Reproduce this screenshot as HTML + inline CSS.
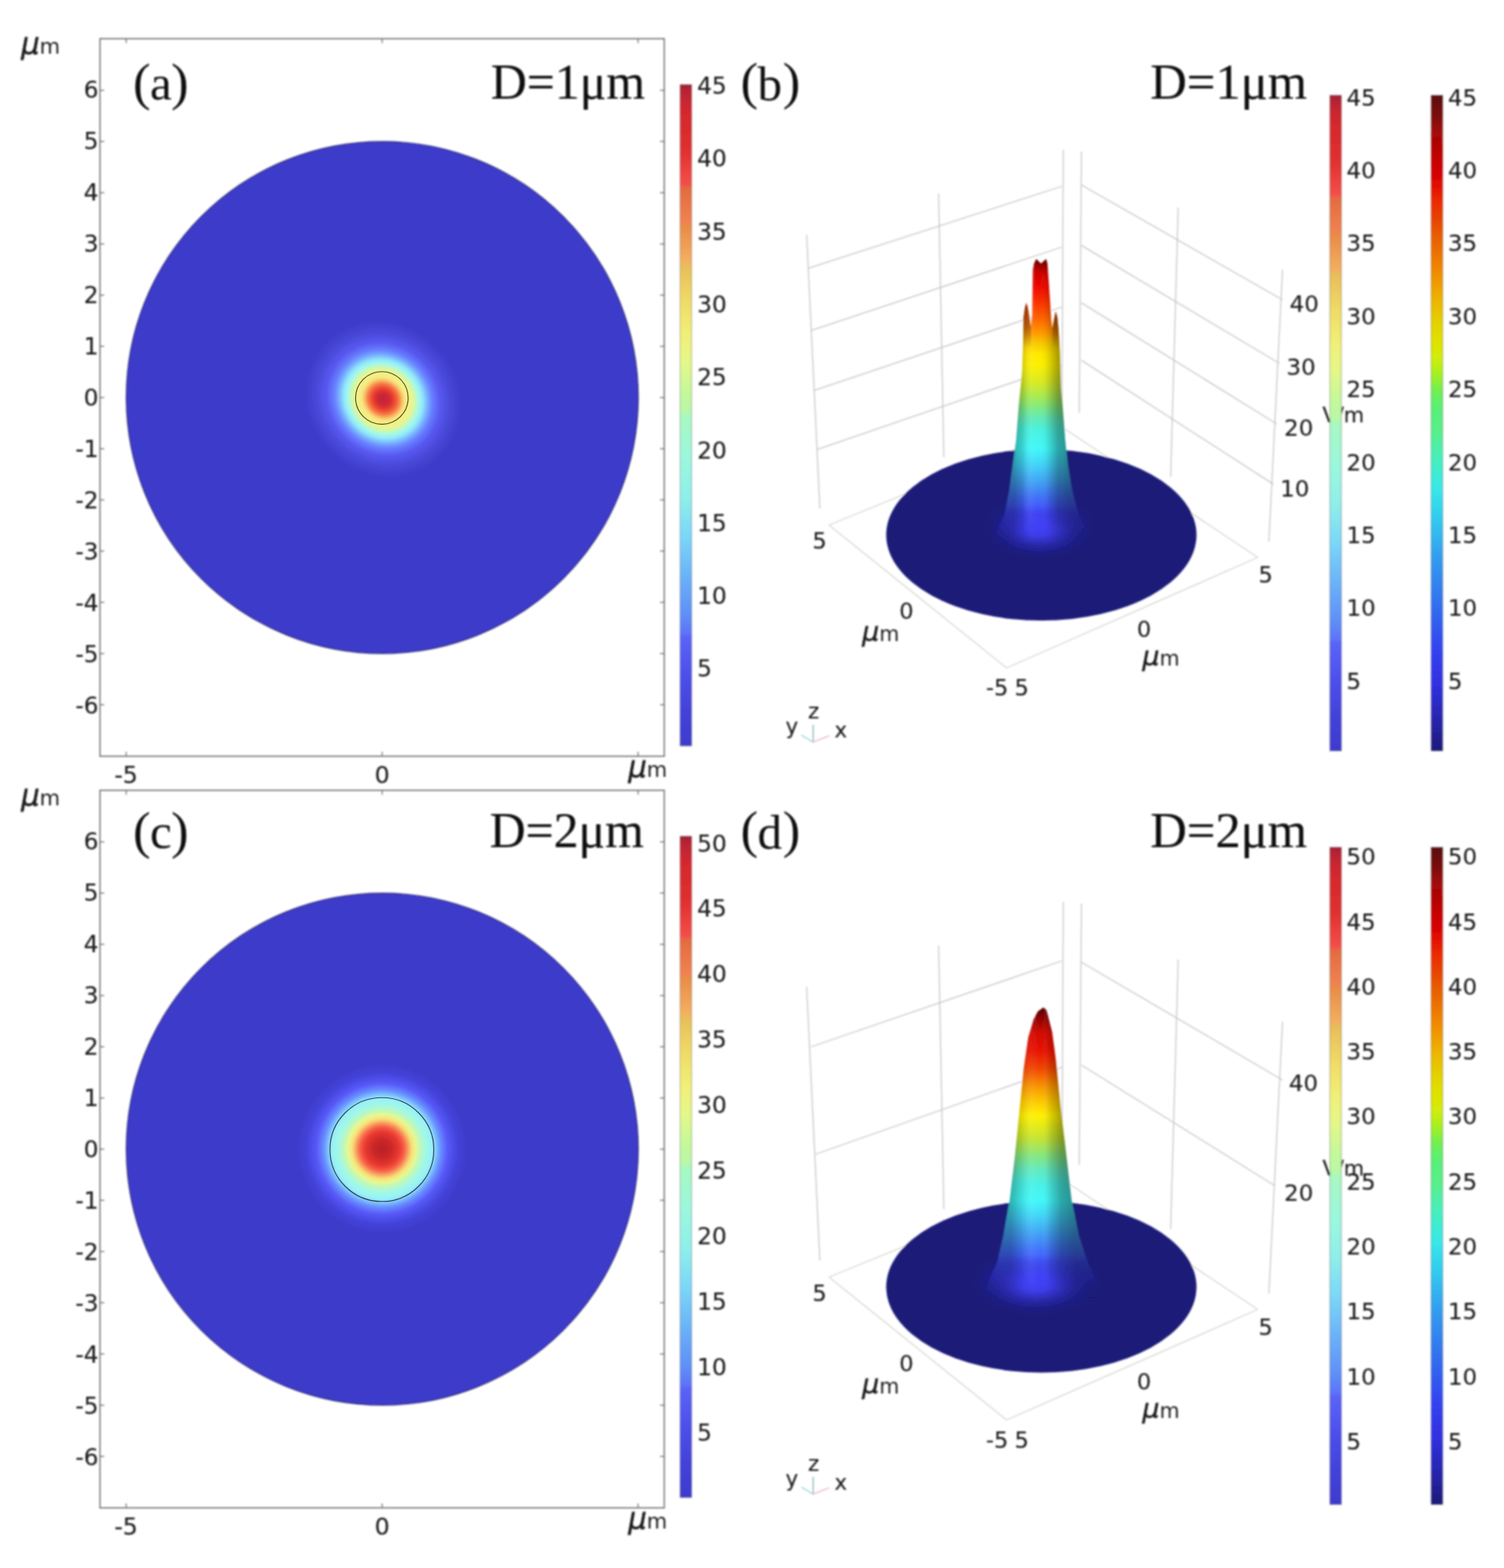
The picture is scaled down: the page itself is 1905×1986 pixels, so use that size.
<!DOCTYPE html>
<html lang="en"><head><meta charset="utf-8"><title>Figure</title>
<style>
html,body{margin:0;padding:0;background:#fff;}
body{width:1905px;height:1986px;overflow:hidden;}
svg{display:block;}
</style></head>
<body>
<svg width="1905" height="1986" viewBox="0 0 1905 1986">
<defs>
<filter id="soft" x="0" y="0" width="100%" height="100%" filterUnits="userSpaceOnUse"><feGaussianBlur stdDeviation="0.8"/></filter>
<linearGradient id="rl" x1="0" y1="0" x2="0" y2="1"><stop offset="0.0000" stop-color="#a02038"/><stop offset="0.0100" stop-color="#b82434"/><stop offset="0.0400" stop-color="#d4282e"/><stop offset="0.1000" stop-color="#e03030"/><stop offset="0.1520" stop-color="#f4504a"/><stop offset="0.1560" stop-color="#e46a40"/><stop offset="0.2100" stop-color="#f08450"/><stop offset="0.2140" stop-color="#e88c48"/><stop offset="0.2680" stop-color="#f4b060"/><stop offset="0.2720" stop-color="#e8bc58"/><stop offset="0.3300" stop-color="#f0dc68"/><stop offset="0.3800" stop-color="#f0f078"/><stop offset="0.4200" stop-color="#e4f888"/><stop offset="0.4600" stop-color="#c8f898"/><stop offset="0.4950" stop-color="#b8f8a8"/><stop offset="0.5000" stop-color="#a8f8c0"/><stop offset="0.5600" stop-color="#9cf8dc"/><stop offset="0.6200" stop-color="#90f0e8"/><stop offset="0.6800" stop-color="#7cd8f8"/><stop offset="0.7400" stop-color="#6cb4f8"/><stop offset="0.8000" stop-color="#6090f8"/><stop offset="0.8300" stop-color="#5c74f8"/><stop offset="0.8350" stop-color="#5a64f8"/><stop offset="0.8900" stop-color="#4e50ec"/><stop offset="0.9400" stop-color="#4444dc"/><stop offset="1.0000" stop-color="#3e3acc"/></linearGradient>
<linearGradient id="jet" x1="0" y1="0" x2="0" y2="1"><stop offset="0.0000" stop-color="#5a1010"/><stop offset="0.0300" stop-color="#7a0c0c"/><stop offset="0.0540" stop-color="#a00808"/><stop offset="0.1070" stop-color="#cc0000"/><stop offset="0.1330" stop-color="#e00800"/><stop offset="0.1600" stop-color="#ec2800"/><stop offset="0.1860" stop-color="#e84000"/><stop offset="0.2130" stop-color="#e85c00"/><stop offset="0.2390" stop-color="#ec7000"/><stop offset="0.2660" stop-color="#f08800"/><stop offset="0.2920" stop-color="#f0a000"/><stop offset="0.3110" stop-color="#ecb400"/><stop offset="0.3450" stop-color="#e4d000"/><stop offset="0.3710" stop-color="#e0e000"/><stop offset="0.3980" stop-color="#d4ec08"/><stop offset="0.4240" stop-color="#a8f020"/><stop offset="0.4500" stop-color="#70f050"/><stop offset="0.4770" stop-color="#58f078"/><stop offset="0.5100" stop-color="#58f088"/><stop offset="0.5500" stop-color="#48f0b8"/><stop offset="0.6000" stop-color="#38e8e8"/><stop offset="0.6500" stop-color="#30c8f0"/><stop offset="0.7000" stop-color="#30a0f0"/><stop offset="0.7500" stop-color="#3080f0"/><stop offset="0.8000" stop-color="#3060f0"/><stop offset="0.8500" stop-color="#3440f0"/><stop offset="0.9000" stop-color="#3030e0"/><stop offset="0.9500" stop-color="#2824b0"/><stop offset="1.0000" stop-color="#1c1a78"/></linearGradient>
<radialGradient id="hotA" ><stop offset="0.000" stop-color="#c02440" stop-opacity="1"/><stop offset="0.060" stop-color="#cc2636" stop-opacity="1"/><stop offset="0.110" stop-color="#e0342c" stop-opacity="1"/><stop offset="0.160" stop-color="#f05838" stop-opacity="1"/><stop offset="0.200" stop-color="#f88048" stop-opacity="1"/><stop offset="0.240" stop-color="#f8c068" stop-opacity="1"/><stop offset="0.275" stop-color="#f8e880" stop-opacity="1"/><stop offset="0.350" stop-color="#f0f488" stop-opacity="1"/><stop offset="0.400" stop-color="#d0f8a8" stop-opacity="1"/><stop offset="0.455" stop-color="#a0f8f0" stop-opacity="1"/><stop offset="0.500" stop-color="#90e8f8" stop-opacity="1"/><stop offset="0.560" stop-color="#78b0ff" stop-opacity="1"/><stop offset="0.620" stop-color="#6880ff" stop-opacity="1"/><stop offset="0.720" stop-color="#5858f0" stop-opacity="1"/><stop offset="0.850" stop-color="#4848d8" stop-opacity="1"/><stop offset="1.000" stop-color="#3d3bc9" stop-opacity="1"/></radialGradient>
<radialGradient id="hotC" ><stop offset="0.000" stop-color="#b82028" stop-opacity="1"/><stop offset="0.110" stop-color="#cc2828" stop-opacity="1"/><stop offset="0.200" stop-color="#e83830" stop-opacity="1"/><stop offset="0.260" stop-color="#f86048" stop-opacity="1"/><stop offset="0.305" stop-color="#f8a060" stop-opacity="1"/><stop offset="0.350" stop-color="#f8e078" stop-opacity="1"/><stop offset="0.400" stop-color="#e8f890" stop-opacity="1"/><stop offset="0.445" stop-color="#c0f8b8" stop-opacity="1"/><stop offset="0.520" stop-color="#a0f8e8" stop-opacity="1"/><stop offset="0.590" stop-color="#98f0f8" stop-opacity="1"/><stop offset="0.630" stop-color="#80c8ff" stop-opacity="1"/><stop offset="0.685" stop-color="#6890ff" stop-opacity="1"/><stop offset="0.770" stop-color="#5858f8" stop-opacity="1"/><stop offset="0.880" stop-color="#4444dc" stop-opacity="1"/><stop offset="1.000" stop-color="#3d3bc9" stop-opacity="1"/></radialGradient>
<linearGradient id="pkB" gradientUnits="userSpaceOnUse" x1="0" y1="328" x2="0" y2="690"><stop offset="0.0000" stop-color="#400000" stop-opacity="1"/><stop offset="0.0166" stop-color="#8c0000" stop-opacity="1"/><stop offset="0.0470" stop-color="#cc0000" stop-opacity="1"/><stop offset="0.0939" stop-color="#ec0400" stop-opacity="1"/><stop offset="0.1464" stop-color="#f82c00" stop-opacity="1"/><stop offset="0.2155" stop-color="#ff6a00" stop-opacity="1"/><stop offset="0.2652" stop-color="#ffa000" stop-opacity="1"/><stop offset="0.2873" stop-color="#f8c000" stop-opacity="1"/><stop offset="0.3315" stop-color="#ffe800" stop-opacity="1"/><stop offset="0.3702" stop-color="#fcf000" stop-opacity="1"/><stop offset="0.4309" stop-color="#d8ea20" stop-opacity="1"/><stop offset="0.4807" stop-color="#a8ea50" stop-opacity="1"/><stop offset="0.5193" stop-color="#80ea80" stop-opacity="1"/><stop offset="0.5580" stop-color="#60eab8" stop-opacity="1"/><stop offset="0.5994" stop-color="#48f2e0" stop-opacity="1"/><stop offset="0.6630" stop-color="#40f8f8" stop-opacity="1"/><stop offset="0.7238" stop-color="#40d0f8" stop-opacity="1"/><stop offset="0.7818" stop-color="#40a0f4" stop-opacity="1"/><stop offset="0.8343" stop-color="#4070f8" stop-opacity="1"/><stop offset="0.8895" stop-color="#4248ff" stop-opacity="1"/><stop offset="0.9392" stop-color="#3c3cf0" stop-opacity="1"/><stop offset="1.0000" stop-color="#3030c8" stop-opacity="1"/></linearGradient>
<linearGradient id="pkD" gradientUnits="userSpaceOnUse" x1="0" y1="1275" x2="0" y2="1645"><stop offset="0.0000" stop-color="#500000" stop-opacity="1"/><stop offset="0.0405" stop-color="#900000" stop-opacity="1"/><stop offset="0.0892" stop-color="#d00800" stop-opacity="1"/><stop offset="0.1486" stop-color="#e81000" stop-opacity="1"/><stop offset="0.2081" stop-color="#f04000" stop-opacity="1"/><stop offset="0.2703" stop-color="#f89000" stop-opacity="1"/><stop offset="0.3243" stop-color="#fcc800" stop-opacity="1"/><stop offset="0.3730" stop-color="#fff000" stop-opacity="1"/><stop offset="0.4514" stop-color="#c4e430" stop-opacity="1"/><stop offset="0.5108" stop-color="#84e680" stop-opacity="1"/><stop offset="0.5595" stop-color="#60eac0" stop-opacity="1"/><stop offset="0.6081" stop-color="#48f2e8" stop-opacity="1"/><stop offset="0.6649" stop-color="#40f8f8" stop-opacity="1"/><stop offset="0.7162" stop-color="#40d4f8" stop-opacity="1"/><stop offset="0.7595" stop-color="#40b0f4" stop-opacity="1"/><stop offset="0.8162" stop-color="#4080f8" stop-opacity="1"/><stop offset="0.8730" stop-color="#4254ff" stop-opacity="1"/><stop offset="0.9270" stop-color="#3e40f8" stop-opacity="1"/><stop offset="1.0000" stop-color="#3030c8" stop-opacity="1"/></linearGradient>
<linearGradient id="prg" gradientUnits="userSpaceOnUse" x1="0" y1="383" x2="0" y2="440"><stop offset="0.0000" stop-color="#401800" stop-opacity="0.45"/><stop offset="0.5614" stop-color="#401800" stop-opacity="0.35"/><stop offset="1.0000" stop-color="#401800" stop-opacity="0"/></linearGradient>
<linearGradient id="fadeB" gradientUnits="userSpaceOnUse" x1="0" y1="0" x2="0" y2="2000"><stop offset="0.0000" stop-color="#fff" stop-opacity="1"/><stop offset="0.3200" stop-color="#fff" stop-opacity="1"/><stop offset="0.3310" stop-color="#999" stop-opacity="1"/><stop offset="0.3450" stop-color="#000" stop-opacity="1"/><stop offset="1.0000" stop-color="#000" stop-opacity="1"/></linearGradient>
<linearGradient id="fadeD" gradientUnits="userSpaceOnUse" x1="0" y1="0" x2="0" y2="2000"><stop offset="0.0000" stop-color="#fff" stop-opacity="1"/><stop offset="0.7950" stop-color="#fff" stop-opacity="1"/><stop offset="0.8075" stop-color="#999" stop-opacity="1"/><stop offset="0.8225" stop-color="#000" stop-opacity="1"/><stop offset="1.0000" stop-color="#000" stop-opacity="1"/></linearGradient>
<mask id="mB" maskUnits="userSpaceOnUse" x="1200" y="300" width="240" height="420"><rect x="1200" y="300" width="240" height="420" fill="url(#fadeB)"/></mask>
<mask id="mD" maskUnits="userSpaceOnUse" x="1200" y="1250" width="240" height="420"><rect x="1200" y="1250" width="240" height="420" fill="url(#fadeD)"/></mask>
<linearGradient id="shB" gradientUnits="userSpaceOnUse" x1="1284" y1="0" x2="1356" y2="0"><stop offset="0.0000" stop-color="#000" stop-opacity="0.3"/><stop offset="0.1667" stop-color="#000" stop-opacity="0.14"/><stop offset="0.3056" stop-color="#fff" stop-opacity="0.05"/><stop offset="0.4444" stop-color="#fff" stop-opacity="0.0"/><stop offset="0.6111" stop-color="#000" stop-opacity="0.1"/><stop offset="0.7778" stop-color="#000" stop-opacity="0.32"/><stop offset="1.0000" stop-color="#000" stop-opacity="0.42"/></linearGradient>
<linearGradient id="shD" gradientUnits="userSpaceOnUse" x1="1280" y1="0" x2="1362" y2="0"><stop offset="0.0000" stop-color="#000" stop-opacity="0.28"/><stop offset="0.1707" stop-color="#000" stop-opacity="0.1"/><stop offset="0.3171" stop-color="#fff" stop-opacity="0.06"/><stop offset="0.4634" stop-color="#fff" stop-opacity="0.0"/><stop offset="0.6098" stop-color="#000" stop-opacity="0.12"/><stop offset="0.7805" stop-color="#000" stop-opacity="0.32"/><stop offset="1.0000" stop-color="#000" stop-opacity="0.42"/></linearGradient>
<radialGradient id="base" ><stop offset="0.000" stop-color="#4646ff" stop-opacity="1"/><stop offset="0.250" stop-color="#4040f4" stop-opacity="0.95"/><stop offset="0.500" stop-color="#3232c4" stop-opacity="0.75"/><stop offset="0.750" stop-color="#2424a0" stop-opacity="0.4"/><stop offset="1.000" stop-color="#1a1a78" stop-opacity="0"/></radialGradient>
<filter id="b2" x="-30%" y="-30%" width="160%" height="160%"><feGaussianBlur stdDeviation="2.5"/></filter>
<filter id="b1" x="-20%" y="-20%" width="140%" height="140%"><feGaussianBlur stdDeviation="0.9"/></filter>
</defs>
<rect x="0" y="0" width="1905" height="1986" fill="#ffffff"/>
<g filter="url(#soft)">
<rect x="126.6" y="49.0" width="714.8" height="908.8" fill="none" stroke="#626262" stroke-width="1.45"/>
<line x1="126.6" y1="892.6" x2="132.1" y2="892.6" stroke="#707070" stroke-width="1.3" />
<line x1="835.9" y1="892.6" x2="841.4" y2="892.6" stroke="#707070" stroke-width="1.3" />
<text x="124.8" y="904.3" font-size="29.5" text-anchor="end" font-family='"DejaVu Sans", "Liberation Sans", sans-serif' fill="#1c1c1c" stroke="#1c1c1c" stroke-width="0.15" >-6</text>
<line x1="126.6" y1="827.8" x2="132.1" y2="827.8" stroke="#707070" stroke-width="1.3" />
<line x1="835.9" y1="827.8" x2="841.4" y2="827.8" stroke="#707070" stroke-width="1.3" />
<text x="124.8" y="839.2" font-size="29.5" text-anchor="end" font-family='"DejaVu Sans", "Liberation Sans", sans-serif' fill="#1c1c1c" stroke="#1c1c1c" stroke-width="0.15" >-5</text>
<line x1="126.6" y1="762.9" x2="132.1" y2="762.9" stroke="#707070" stroke-width="1.3" />
<line x1="835.9" y1="762.9" x2="841.4" y2="762.9" stroke="#707070" stroke-width="1.3" />
<text x="124.8" y="774.2" font-size="29.5" text-anchor="end" font-family='"DejaVu Sans", "Liberation Sans", sans-serif' fill="#1c1c1c" stroke="#1c1c1c" stroke-width="0.15" >-4</text>
<line x1="126.6" y1="698.0" x2="132.1" y2="698.0" stroke="#707070" stroke-width="1.3" />
<line x1="835.9" y1="698.0" x2="841.4" y2="698.0" stroke="#707070" stroke-width="1.3" />
<text x="124.8" y="709.2" font-size="29.5" text-anchor="end" font-family='"DejaVu Sans", "Liberation Sans", sans-serif' fill="#1c1c1c" stroke="#1c1c1c" stroke-width="0.15" >-3</text>
<line x1="126.6" y1="633.2" x2="132.1" y2="633.2" stroke="#707070" stroke-width="1.3" />
<line x1="835.9" y1="633.2" x2="841.4" y2="633.2" stroke="#707070" stroke-width="1.3" />
<text x="124.8" y="644.1" font-size="29.5" text-anchor="end" font-family='"DejaVu Sans", "Liberation Sans", sans-serif' fill="#1c1c1c" stroke="#1c1c1c" stroke-width="0.15" >-2</text>
<line x1="126.6" y1="568.4" x2="132.1" y2="568.4" stroke="#707070" stroke-width="1.3" />
<line x1="835.9" y1="568.4" x2="841.4" y2="568.4" stroke="#707070" stroke-width="1.3" />
<text x="124.8" y="579.1" font-size="29.5" text-anchor="end" font-family='"DejaVu Sans", "Liberation Sans", sans-serif' fill="#1c1c1c" stroke="#1c1c1c" stroke-width="0.15" >-1</text>
<line x1="126.6" y1="503.5" x2="132.1" y2="503.5" stroke="#707070" stroke-width="1.3" />
<line x1="835.9" y1="503.5" x2="841.4" y2="503.5" stroke="#707070" stroke-width="1.3" />
<text x="124.8" y="514.0" font-size="29.5" text-anchor="end" font-family='"DejaVu Sans", "Liberation Sans", sans-serif' fill="#1c1c1c" stroke="#1c1c1c" stroke-width="0.15" >0</text>
<line x1="126.6" y1="438.6" x2="132.1" y2="438.6" stroke="#707070" stroke-width="1.3" />
<line x1="835.9" y1="438.6" x2="841.4" y2="438.6" stroke="#707070" stroke-width="1.3" />
<text x="124.8" y="448.9" font-size="29.5" text-anchor="end" font-family='"DejaVu Sans", "Liberation Sans", sans-serif' fill="#1c1c1c" stroke="#1c1c1c" stroke-width="0.15" >1</text>
<line x1="126.6" y1="373.8" x2="132.1" y2="373.8" stroke="#707070" stroke-width="1.3" />
<line x1="835.9" y1="373.8" x2="841.4" y2="373.8" stroke="#707070" stroke-width="1.3" />
<text x="124.8" y="383.9" font-size="29.5" text-anchor="end" font-family='"DejaVu Sans", "Liberation Sans", sans-serif' fill="#1c1c1c" stroke="#1c1c1c" stroke-width="0.15" >2</text>
<line x1="126.6" y1="309.0" x2="132.1" y2="309.0" stroke="#707070" stroke-width="1.3" />
<line x1="835.9" y1="309.0" x2="841.4" y2="309.0" stroke="#707070" stroke-width="1.3" />
<text x="124.8" y="318.9" font-size="29.5" text-anchor="end" font-family='"DejaVu Sans", "Liberation Sans", sans-serif' fill="#1c1c1c" stroke="#1c1c1c" stroke-width="0.15" >3</text>
<line x1="126.6" y1="244.1" x2="132.1" y2="244.1" stroke="#707070" stroke-width="1.3" />
<line x1="835.9" y1="244.1" x2="841.4" y2="244.1" stroke="#707070" stroke-width="1.3" />
<text x="124.8" y="253.8" font-size="29.5" text-anchor="end" font-family='"DejaVu Sans", "Liberation Sans", sans-serif' fill="#1c1c1c" stroke="#1c1c1c" stroke-width="0.15" >4</text>
<line x1="126.6" y1="179.2" x2="132.1" y2="179.2" stroke="#707070" stroke-width="1.3" />
<line x1="835.9" y1="179.2" x2="841.4" y2="179.2" stroke="#707070" stroke-width="1.3" />
<text x="124.8" y="188.8" font-size="29.5" text-anchor="end" font-family='"DejaVu Sans", "Liberation Sans", sans-serif' fill="#1c1c1c" stroke="#1c1c1c" stroke-width="0.15" >5</text>
<line x1="126.6" y1="114.4" x2="132.1" y2="114.4" stroke="#707070" stroke-width="1.3" />
<line x1="835.9" y1="114.4" x2="841.4" y2="114.4" stroke="#707070" stroke-width="1.3" />
<text x="124.8" y="123.7" font-size="29.5" text-anchor="end" font-family='"DejaVu Sans", "Liberation Sans", sans-serif' fill="#1c1c1c" stroke="#1c1c1c" stroke-width="0.15" >6</text>
<line x1="159.8" y1="49.0" x2="159.8" y2="54.5" stroke="#707070" stroke-width="1.3" />
<line x1="159.8" y1="952.3" x2="159.8" y2="957.8" stroke="#707070" stroke-width="1.3" />
<line x1="484.0" y1="49.0" x2="484.0" y2="54.5" stroke="#707070" stroke-width="1.3" />
<line x1="484.0" y1="952.3" x2="484.0" y2="957.8" stroke="#707070" stroke-width="1.3" />
<line x1="808.2" y1="49.0" x2="808.2" y2="54.5" stroke="#707070" stroke-width="1.3" />
<line x1="808.2" y1="952.3" x2="808.2" y2="957.8" stroke="#707070" stroke-width="1.3" />
<text x="159.6" y="991.7" font-size="30" text-anchor="middle" font-family='"DejaVu Sans", "Liberation Sans", sans-serif' fill="#1c1c1c" stroke="#1c1c1c" stroke-width="0.15" >-5</text>
<text x="484.0" y="991.7" font-size="30" text-anchor="middle" font-family='"DejaVu Sans", "Liberation Sans", sans-serif' fill="#1c1c1c" stroke="#1c1c1c" stroke-width="0.15" >0</text>
<text x="795.8" y="983.6" font-family='"DejaVu Sans", "Liberation Sans", sans-serif' fill="#1c1c1c"><tspan font-size="37" font-style="italic" stroke="#1c1c1c" stroke-width="0.5">μ</tspan><tspan font-size="26.5">m</tspan></text>
<text x="26.7" y="67.8" font-family='"DejaVu Sans", "Liberation Sans", sans-serif' fill="#1c1c1c"><tspan font-size="37" font-style="italic" stroke="#1c1c1c" stroke-width="0.5">μ</tspan><tspan font-size="26.5">m</tspan></text>
<circle cx="484.2" cy="503.5" r="324.4" fill="#3d3bc9" stroke="#141448" stroke-opacity="0.7" stroke-width="1.2"/>
<g transform="translate(485.5,505.5) rotate(45)"><ellipse cx="0" cy="0" rx="104" ry="96" fill="url(#hotA)"/></g>
<text font-family='"Liberation Serif", serif' fill="#0c0c0c"><tspan x="168.4" y="126.3" font-size="66.5">(</tspan><tspan x="190.0" y="126.3" font-size="62">a</tspan><tspan x="216.7" y="126.3" font-size="66.5">)</tspan></text>
<text x="817.0" y="125.0" font-size="63" text-anchor="end" font-family='"Liberation Serif", serif' fill="#0c0c0c" stroke="#0c0c0c" stroke-width="0.2" >D=1μm</text>
<rect x="861.5" y="107.2" width="14.5" height="837.5" fill="url(#rl)"/>
<rect x="861.5" y="107.2" width="14.5" height="837.5" fill="none" stroke="#444" stroke-opacity="0.45" stroke-width="1"/>
<text x="883.0" y="119.0" font-size="29.5" text-anchor="start" font-family='"DejaVu Sans", "Liberation Sans", sans-serif' fill="#1c1c1c" stroke="#1c1c1c" stroke-width="0.15" >45</text>
<text x="883.0" y="211.3" font-size="29.5" text-anchor="start" font-family='"DejaVu Sans", "Liberation Sans", sans-serif' fill="#1c1c1c" stroke="#1c1c1c" stroke-width="0.15" >40</text>
<text x="883.0" y="303.6" font-size="29.5" text-anchor="start" font-family='"DejaVu Sans", "Liberation Sans", sans-serif' fill="#1c1c1c" stroke="#1c1c1c" stroke-width="0.15" >35</text>
<text x="883.0" y="395.9" font-size="29.5" text-anchor="start" font-family='"DejaVu Sans", "Liberation Sans", sans-serif' fill="#1c1c1c" stroke="#1c1c1c" stroke-width="0.15" >30</text>
<text x="883.0" y="488.2" font-size="29.5" text-anchor="start" font-family='"DejaVu Sans", "Liberation Sans", sans-serif' fill="#1c1c1c" stroke="#1c1c1c" stroke-width="0.15" >25</text>
<text x="883.0" y="580.5" font-size="29.5" text-anchor="start" font-family='"DejaVu Sans", "Liberation Sans", sans-serif' fill="#1c1c1c" stroke="#1c1c1c" stroke-width="0.15" >20</text>
<text x="883.0" y="672.8" font-size="29.5" text-anchor="start" font-family='"DejaVu Sans", "Liberation Sans", sans-serif' fill="#1c1c1c" stroke="#1c1c1c" stroke-width="0.15" >15</text>
<text x="883.0" y="765.1" font-size="29.5" text-anchor="start" font-family='"DejaVu Sans", "Liberation Sans", sans-serif' fill="#1c1c1c" stroke="#1c1c1c" stroke-width="0.15" >10</text>
<text x="883.0" y="857.4" font-size="29.5" text-anchor="start" font-family='"DejaVu Sans", "Liberation Sans", sans-serif' fill="#1c1c1c" stroke="#1c1c1c" stroke-width="0.15" >5</text>
<rect x="126.6" y="1001.0" width="714.8" height="908.8" fill="none" stroke="#626262" stroke-width="1.45"/>
<line x1="126.6" y1="1844.6" x2="132.1" y2="1844.6" stroke="#707070" stroke-width="1.3" />
<line x1="835.9" y1="1844.6" x2="841.4" y2="1844.6" stroke="#707070" stroke-width="1.3" />
<text x="124.8" y="1856.3" font-size="29.5" text-anchor="end" font-family='"DejaVu Sans", "Liberation Sans", sans-serif' fill="#1c1c1c" stroke="#1c1c1c" stroke-width="0.15" >-6</text>
<line x1="126.6" y1="1779.8" x2="132.1" y2="1779.8" stroke="#707070" stroke-width="1.3" />
<line x1="835.9" y1="1779.8" x2="841.4" y2="1779.8" stroke="#707070" stroke-width="1.3" />
<text x="124.8" y="1791.2" font-size="29.5" text-anchor="end" font-family='"DejaVu Sans", "Liberation Sans", sans-serif' fill="#1c1c1c" stroke="#1c1c1c" stroke-width="0.15" >-5</text>
<line x1="126.6" y1="1714.9" x2="132.1" y2="1714.9" stroke="#707070" stroke-width="1.3" />
<line x1="835.9" y1="1714.9" x2="841.4" y2="1714.9" stroke="#707070" stroke-width="1.3" />
<text x="124.8" y="1726.2" font-size="29.5" text-anchor="end" font-family='"DejaVu Sans", "Liberation Sans", sans-serif' fill="#1c1c1c" stroke="#1c1c1c" stroke-width="0.15" >-4</text>
<line x1="126.6" y1="1650.0" x2="132.1" y2="1650.0" stroke="#707070" stroke-width="1.3" />
<line x1="835.9" y1="1650.0" x2="841.4" y2="1650.0" stroke="#707070" stroke-width="1.3" />
<text x="124.8" y="1661.1" font-size="29.5" text-anchor="end" font-family='"DejaVu Sans", "Liberation Sans", sans-serif' fill="#1c1c1c" stroke="#1c1c1c" stroke-width="0.15" >-3</text>
<line x1="126.6" y1="1585.2" x2="132.1" y2="1585.2" stroke="#707070" stroke-width="1.3" />
<line x1="835.9" y1="1585.2" x2="841.4" y2="1585.2" stroke="#707070" stroke-width="1.3" />
<text x="124.8" y="1596.1" font-size="29.5" text-anchor="end" font-family='"DejaVu Sans", "Liberation Sans", sans-serif' fill="#1c1c1c" stroke="#1c1c1c" stroke-width="0.15" >-2</text>
<line x1="126.6" y1="1520.3" x2="132.1" y2="1520.3" stroke="#707070" stroke-width="1.3" />
<line x1="835.9" y1="1520.3" x2="841.4" y2="1520.3" stroke="#707070" stroke-width="1.3" />
<text x="124.8" y="1531.0" font-size="29.5" text-anchor="end" font-family='"DejaVu Sans", "Liberation Sans", sans-serif' fill="#1c1c1c" stroke="#1c1c1c" stroke-width="0.15" >-1</text>
<line x1="126.6" y1="1455.5" x2="132.1" y2="1455.5" stroke="#707070" stroke-width="1.3" />
<line x1="835.9" y1="1455.5" x2="841.4" y2="1455.5" stroke="#707070" stroke-width="1.3" />
<text x="124.8" y="1466.0" font-size="29.5" text-anchor="end" font-family='"DejaVu Sans", "Liberation Sans", sans-serif' fill="#1c1c1c" stroke="#1c1c1c" stroke-width="0.15" >0</text>
<line x1="126.6" y1="1390.7" x2="132.1" y2="1390.7" stroke="#707070" stroke-width="1.3" />
<line x1="835.9" y1="1390.7" x2="841.4" y2="1390.7" stroke="#707070" stroke-width="1.3" />
<text x="124.8" y="1401.0" font-size="29.5" text-anchor="end" font-family='"DejaVu Sans", "Liberation Sans", sans-serif' fill="#1c1c1c" stroke="#1c1c1c" stroke-width="0.15" >1</text>
<line x1="126.6" y1="1325.8" x2="132.1" y2="1325.8" stroke="#707070" stroke-width="1.3" />
<line x1="835.9" y1="1325.8" x2="841.4" y2="1325.8" stroke="#707070" stroke-width="1.3" />
<text x="124.8" y="1335.9" font-size="29.5" text-anchor="end" font-family='"DejaVu Sans", "Liberation Sans", sans-serif' fill="#1c1c1c" stroke="#1c1c1c" stroke-width="0.15" >2</text>
<line x1="126.6" y1="1261.0" x2="132.1" y2="1261.0" stroke="#707070" stroke-width="1.3" />
<line x1="835.9" y1="1261.0" x2="841.4" y2="1261.0" stroke="#707070" stroke-width="1.3" />
<text x="124.8" y="1270.9" font-size="29.5" text-anchor="end" font-family='"DejaVu Sans", "Liberation Sans", sans-serif' fill="#1c1c1c" stroke="#1c1c1c" stroke-width="0.15" >3</text>
<line x1="126.6" y1="1196.1" x2="132.1" y2="1196.1" stroke="#707070" stroke-width="1.3" />
<line x1="835.9" y1="1196.1" x2="841.4" y2="1196.1" stroke="#707070" stroke-width="1.3" />
<text x="124.8" y="1205.8" font-size="29.5" text-anchor="end" font-family='"DejaVu Sans", "Liberation Sans", sans-serif' fill="#1c1c1c" stroke="#1c1c1c" stroke-width="0.15" >4</text>
<line x1="126.6" y1="1131.2" x2="132.1" y2="1131.2" stroke="#707070" stroke-width="1.3" />
<line x1="835.9" y1="1131.2" x2="841.4" y2="1131.2" stroke="#707070" stroke-width="1.3" />
<text x="124.8" y="1140.8" font-size="29.5" text-anchor="end" font-family='"DejaVu Sans", "Liberation Sans", sans-serif' fill="#1c1c1c" stroke="#1c1c1c" stroke-width="0.15" >5</text>
<line x1="126.6" y1="1066.4" x2="132.1" y2="1066.4" stroke="#707070" stroke-width="1.3" />
<line x1="835.9" y1="1066.4" x2="841.4" y2="1066.4" stroke="#707070" stroke-width="1.3" />
<text x="124.8" y="1075.7" font-size="29.5" text-anchor="end" font-family='"DejaVu Sans", "Liberation Sans", sans-serif' fill="#1c1c1c" stroke="#1c1c1c" stroke-width="0.15" >6</text>
<line x1="159.8" y1="1001.0" x2="159.8" y2="1006.5" stroke="#707070" stroke-width="1.3" />
<line x1="159.8" y1="1904.3" x2="159.8" y2="1909.8" stroke="#707070" stroke-width="1.3" />
<line x1="484.0" y1="1001.0" x2="484.0" y2="1006.5" stroke="#707070" stroke-width="1.3" />
<line x1="484.0" y1="1904.3" x2="484.0" y2="1909.8" stroke="#707070" stroke-width="1.3" />
<line x1="808.2" y1="1001.0" x2="808.2" y2="1006.5" stroke="#707070" stroke-width="1.3" />
<line x1="808.2" y1="1904.3" x2="808.2" y2="1909.8" stroke="#707070" stroke-width="1.3" />
<text x="159.6" y="1943.7" font-size="30" text-anchor="middle" font-family='"DejaVu Sans", "Liberation Sans", sans-serif' fill="#1c1c1c" stroke="#1c1c1c" stroke-width="0.15" >-5</text>
<text x="484.0" y="1943.7" font-size="30" text-anchor="middle" font-family='"DejaVu Sans", "Liberation Sans", sans-serif' fill="#1c1c1c" stroke="#1c1c1c" stroke-width="0.15" >0</text>
<text x="795.8" y="1935.6" font-family='"DejaVu Sans", "Liberation Sans", sans-serif' fill="#1c1c1c"><tspan font-size="37" font-style="italic" stroke="#1c1c1c" stroke-width="0.5">μ</tspan><tspan font-size="26.5">m</tspan></text>
<text x="26.7" y="1019.8" font-family='"DejaVu Sans", "Liberation Sans", sans-serif' fill="#1c1c1c"><tspan font-size="37" font-style="italic" stroke="#1c1c1c" stroke-width="0.5">μ</tspan><tspan font-size="26.5">m</tspan></text>
<circle cx="484.2" cy="1455.5" r="324.4" fill="#3d3bc9" stroke="#141448" stroke-opacity="0.7" stroke-width="1.2"/>
<g transform="translate(484.0,1455.0)"><ellipse cx="0" cy="0" rx="108" ry="108" fill="url(#hotC)"/></g>
<text font-family='"Liberation Serif", serif' fill="#0c0c0c"><tspan x="168.4" y="1074.3" font-size="66.5">(</tspan><tspan x="190.0" y="1074.3" font-size="62">c</tspan><tspan x="216.7" y="1074.3" font-size="66.5">)</tspan></text>
<text x="815.5" y="1073.0" font-size="63" text-anchor="end" font-family='"Liberation Serif", serif' fill="#0c0c0c" stroke="#0c0c0c" stroke-width="0.2" >D=2μm</text>
<rect x="861.5" y="1059.2" width="14.5" height="837.5" fill="url(#rl)"/>
<rect x="861.5" y="1059.2" width="14.5" height="837.5" fill="none" stroke="#444" stroke-opacity="0.45" stroke-width="1"/>
<text x="883.0" y="1078.5" font-size="29.5" text-anchor="start" font-family='"DejaVu Sans", "Liberation Sans", sans-serif' fill="#1c1c1c" stroke="#1c1c1c" stroke-width="0.15" >50</text>
<text x="883.0" y="1161.4" font-size="29.5" text-anchor="start" font-family='"DejaVu Sans", "Liberation Sans", sans-serif' fill="#1c1c1c" stroke="#1c1c1c" stroke-width="0.15" >45</text>
<text x="883.0" y="1244.3" font-size="29.5" text-anchor="start" font-family='"DejaVu Sans", "Liberation Sans", sans-serif' fill="#1c1c1c" stroke="#1c1c1c" stroke-width="0.15" >40</text>
<text x="883.0" y="1327.2" font-size="29.5" text-anchor="start" font-family='"DejaVu Sans", "Liberation Sans", sans-serif' fill="#1c1c1c" stroke="#1c1c1c" stroke-width="0.15" >35</text>
<text x="883.0" y="1410.1" font-size="29.5" text-anchor="start" font-family='"DejaVu Sans", "Liberation Sans", sans-serif' fill="#1c1c1c" stroke="#1c1c1c" stroke-width="0.15" >30</text>
<text x="883.0" y="1493.0" font-size="29.5" text-anchor="start" font-family='"DejaVu Sans", "Liberation Sans", sans-serif' fill="#1c1c1c" stroke="#1c1c1c" stroke-width="0.15" >25</text>
<text x="883.0" y="1575.9" font-size="29.5" text-anchor="start" font-family='"DejaVu Sans", "Liberation Sans", sans-serif' fill="#1c1c1c" stroke="#1c1c1c" stroke-width="0.15" >20</text>
<text x="883.0" y="1658.8" font-size="29.5" text-anchor="start" font-family='"DejaVu Sans", "Liberation Sans", sans-serif' fill="#1c1c1c" stroke="#1c1c1c" stroke-width="0.15" >15</text>
<text x="883.0" y="1741.7" font-size="29.5" text-anchor="start" font-family='"DejaVu Sans", "Liberation Sans", sans-serif' fill="#1c1c1c" stroke="#1c1c1c" stroke-width="0.15" >10</text>
<text x="883.0" y="1824.6" font-size="29.5" text-anchor="start" font-family='"DejaVu Sans", "Liberation Sans", sans-serif' fill="#1c1c1c" stroke="#1c1c1c" stroke-width="0.15" >5</text>
<line x1="1050.0" y1="665.0" x2="1275.0" y2="846.0" stroke="#d2d2cc" stroke-width="1.3" />
<line x1="1275.0" y1="846.0" x2="1593.0" y2="706.0" stroke="#d2d2cc" stroke-width="1.3" />
<line x1="1050.0" y1="665.0" x2="1349.0" y2="543.5" stroke="#d2d2cc" stroke-width="1.3" />
<line x1="1593.0" y1="706.0" x2="1349.0" y2="543.5" stroke="#d2d2cc" stroke-width="1.3" />
<line x1="1021.7" y1="297.4" x2="1038.5" y2="644.0" stroke="#c4c4c6" stroke-width="1.3" />
<line x1="1188.9" y1="245.1" x2="1195.5" y2="579.0" stroke="#c4c4c6" stroke-width="1.3" />
<line x1="1346.8" y1="190.0" x2="1345.0" y2="540.0" stroke="#c4c4c6" stroke-width="1.3" />
<line x1="1369.8" y1="192.0" x2="1367.0" y2="523.0" stroke="#c4c4c6" stroke-width="1.3" />
<line x1="1492.3" y1="263.0" x2="1482.8" y2="604.0" stroke="#c4c4c6" stroke-width="1.3" />
<line x1="1624.5" y1="341.5" x2="1607.2" y2="686.0" stroke="#c4c4c6" stroke-width="1.3" />
<line x1="1024.3" y1="339.6" x2="1344.9" y2="236.0" stroke="#c4c4c6" stroke-width="1.3" />
<line x1="1369.8" y1="234.3" x2="1624.5" y2="379.8" stroke="#c4c4c6" stroke-width="1.3" />
<line x1="1027.4" y1="418.7" x2="1344.9" y2="313.0" stroke="#c4c4c6" stroke-width="1.3" />
<line x1="1369.8" y1="310.9" x2="1620.6" y2="460.2" stroke="#c4c4c6" stroke-width="1.3" />
<line x1="1030.9" y1="494.7" x2="1344.9" y2="389.0" stroke="#c4c4c6" stroke-width="1.3" />
<line x1="1369.8" y1="383.6" x2="1616.8" y2="536.8" stroke="#c4c4c6" stroke-width="1.3" />
<line x1="1034.7" y1="569.4" x2="1344.9" y2="463.0" stroke="#c4c4c6" stroke-width="1.3" />
<line x1="1369.8" y1="456.4" x2="1613.0" y2="613.4" stroke="#c4c4c6" stroke-width="1.3" />
<ellipse cx="1319" cy="677.5" rx="196.5" ry="108.5" fill="#1a1a78"/>
<g transform="translate(0,0)"><ellipse cx="1317" cy="668" rx="72" ry="42" fill="url(#base)"/><g mask="url(#mB)"><g><path d="M1262.0,692.0 L1262.0,676.0 L1272.1,653.5 L1278.5,621.3 L1282.8,589.2 L1287.1,557.0 L1290.3,514.2 L1294.6,471.4 L1295.7,440.0 L1296.4,402.0 L1298.3,389.0 L1300.0,383.6 L1301.7,389.0 L1303.6,400.0 L1305.6,414.0 L1307.4,398.0 L1308.2,342.0 L1309.6,334.0 L1312.5,327.9 L1318.6,333.8 L1325.0,327.9 L1326.8,334.0 L1327.3,342.0 L1330.0,381.0 L1331.6,405.0 L1333.0,416.0 L1334.4,408.0 L1337.1,394.3 L1339.3,402.0 L1340.7,417.0 L1342.8,450.0 L1343.9,492.8 L1346.0,514.2 L1349.2,557.0 L1352.5,589.2 L1357.8,621.3 L1366.4,653.5 L1378.0,676.0 L1378.0,692.0 Z" fill="url(#pkB)"/><path d="M1262.0,692.0 L1262.0,676.0 L1272.1,653.5 L1278.5,621.3 L1282.8,589.2 L1287.1,557.0 L1290.3,514.2 L1294.6,471.4 L1295.7,440.0 L1296.4,402.0 L1298.3,389.0 L1300.0,383.6 L1301.7,389.0 L1303.6,400.0 L1305.6,414.0 L1307.4,398.0 L1308.2,342.0 L1309.6,334.0 L1312.5,327.9 L1318.6,333.8 L1325.0,327.9 L1326.8,334.0 L1327.3,342.0 L1330.0,381.0 L1331.6,405.0 L1333.0,416.0 L1334.4,408.0 L1337.1,394.3 L1339.3,402.0 L1340.7,417.0 L1342.8,450.0 L1343.9,492.8 L1346.0,514.2 L1349.2,557.0 L1352.5,589.2 L1357.8,621.3 L1366.4,653.5 L1378.0,676.0 L1378.0,692.0 Z" fill="url(#shB)"/><path d="M1296.2,440.0 L1296.4,402.0 L1298.3,389.0 L1300.0,383.6 L1301.7,389.0 L1303.6,400.0 L1305.6,414.0 L1306.0,440.0 Z" fill="url(#prg)"/><path d="M1333.0,440.0 L1333.0,416.0 L1334.4,408.0 L1337.1,394.3 L1339.3,402.0 L1340.7,417.0 L1342.5,440.0 Z" fill="url(#prg)"/></g></g></g>
<text x="1652.0" y="394.5" font-size="29" text-anchor="middle" font-family='"DejaVu Sans", "Liberation Sans", sans-serif' fill="#1c1c1c" stroke="#1c1c1c" stroke-width="0.15" >40</text>
<text x="1648.0" y="475.0" font-size="29" text-anchor="middle" font-family='"DejaVu Sans", "Liberation Sans", sans-serif' fill="#1c1c1c" stroke="#1c1c1c" stroke-width="0.15" >30</text>
<text x="1645.0" y="551.5" font-size="29" text-anchor="middle" font-family='"DejaVu Sans", "Liberation Sans", sans-serif' fill="#1c1c1c" stroke="#1c1c1c" stroke-width="0.15" >20</text>
<text x="1640.0" y="628.5" font-size="29" text-anchor="middle" font-family='"DejaVu Sans", "Liberation Sans", sans-serif' fill="#1c1c1c" stroke="#1c1c1c" stroke-width="0.15" >10</text>
<text x="1038.0" y="695.0" font-size="28.5" text-anchor="middle" font-family='"DejaVu Sans", "Liberation Sans", sans-serif' fill="#1c1c1c" stroke="#1c1c1c" stroke-width="0.15" >5</text>
<text x="1148.0" y="784.0" font-size="28.5" text-anchor="middle" font-family='"DejaVu Sans", "Liberation Sans", sans-serif' fill="#1c1c1c" stroke="#1c1c1c" stroke-width="0.15" >0</text>
<text x="1092.0" y="812.0" font-family='"DejaVu Sans", "Liberation Sans", sans-serif' fill="#1c1c1c"><tspan font-size="34" font-style="italic" stroke="#1c1c1c" stroke-width="0.5">μ</tspan><tspan font-size="26">m</tspan></text>
<text x="1263.0" y="881.0" font-size="28.5" text-anchor="middle" font-family='"DejaVu Sans", "Liberation Sans", sans-serif' fill="#1c1c1c" stroke="#1c1c1c" stroke-width="0.15" >-5</text>
<text x="1294.0" y="881.0" font-size="28.5" text-anchor="middle" font-family='"DejaVu Sans", "Liberation Sans", sans-serif' fill="#1c1c1c" stroke="#1c1c1c" stroke-width="0.15" >5</text>
<text x="1449.0" y="807.0" font-size="28.5" text-anchor="middle" font-family='"DejaVu Sans", "Liberation Sans", sans-serif' fill="#1c1c1c" stroke="#1c1c1c" stroke-width="0.15" >0</text>
<text x="1447.0" y="843.0" font-family='"DejaVu Sans", "Liberation Sans", sans-serif' fill="#1c1c1c"><tspan font-size="34" font-style="italic" stroke="#1c1c1c" stroke-width="0.5">μ</tspan><tspan font-size="26">m</tspan></text>
<text x="1603.0" y="738.0" font-size="28.5" text-anchor="middle" font-family='"DejaVu Sans", "Liberation Sans", sans-serif' fill="#1c1c1c" stroke="#1c1c1c" stroke-width="0.15" >5</text>
<text x="1003.0" y="929.0" font-size="27" text-anchor="middle" font-family='"DejaVu Sans", "Liberation Sans", sans-serif' fill="#1c1c1c" stroke="#1c1c1c" stroke-width="0.15" >y</text>
<text x="1030.5" y="910.0" font-size="27" text-anchor="middle" font-family='"DejaVu Sans", "Liberation Sans", sans-serif' fill="#1c1c1c" stroke="#1c1c1c" stroke-width="0.15" >z</text>
<text x="1065.0" y="934.0" font-size="27" text-anchor="middle" font-family='"DejaVu Sans", "Liberation Sans", sans-serif' fill="#1c1c1c" stroke="#1c1c1c" stroke-width="0.15" >x</text>
<line x1="1030.0" y1="918.0" x2="1030.0" y2="940.0" stroke="#7aa8a8" stroke-width="1.3" />
<line x1="1030.0" y1="940.0" x2="1015.0" y2="931.0" stroke="#8cc" stroke-width="1.3" />
<line x1="1030.0" y1="940.0" x2="1050.0" y2="932.0" stroke="#e8a0b0" stroke-width="1.3" />
<text x="1675.0" y="534.5" font-size="26.5" text-anchor="start" font-family='"DejaVu Sans", "Liberation Sans", sans-serif' fill="#1c1c1c" stroke="#1c1c1c" stroke-width="0.15" >V/m</text>
<text font-family='"Liberation Serif", serif' fill="#0c0c0c"><tspan x="937.9" y="125.3" font-size="66.5">(</tspan><tspan x="959.5" y="126.8" font-size="62">b</tspan><tspan x="991.5" y="125.3" font-size="66.5">)</tspan></text>
<text x="1655.5" y="124.8" font-size="64" text-anchor="end" font-family='"Liberation Serif", serif' fill="#0c0c0c" stroke="#0c0c0c" stroke-width="0.2" >D=1μm</text>
<rect x="1684.5" y="120.8" width="14.5" height="830.2" fill="url(#rl)"/>
<rect x="1684.5" y="120.8" width="14.5" height="830.2" fill="none" stroke="#444" stroke-opacity="0.45" stroke-width="1"/>
<text x="1705.5" y="133.6" font-size="29" text-anchor="start" font-family='"DejaVu Sans", "Liberation Sans", sans-serif' fill="#1c1c1c" stroke="#1c1c1c" stroke-width="0.15" >45</text>
<text x="1705.5" y="226.0" font-size="29" text-anchor="start" font-family='"DejaVu Sans", "Liberation Sans", sans-serif' fill="#1c1c1c" stroke="#1c1c1c" stroke-width="0.15" >40</text>
<text x="1705.5" y="318.4" font-size="29" text-anchor="start" font-family='"DejaVu Sans", "Liberation Sans", sans-serif' fill="#1c1c1c" stroke="#1c1c1c" stroke-width="0.15" >35</text>
<text x="1705.5" y="410.8" font-size="29" text-anchor="start" font-family='"DejaVu Sans", "Liberation Sans", sans-serif' fill="#1c1c1c" stroke="#1c1c1c" stroke-width="0.15" >30</text>
<text x="1705.5" y="503.2" font-size="29" text-anchor="start" font-family='"DejaVu Sans", "Liberation Sans", sans-serif' fill="#1c1c1c" stroke="#1c1c1c" stroke-width="0.15" >25</text>
<text x="1705.5" y="595.6" font-size="29" text-anchor="start" font-family='"DejaVu Sans", "Liberation Sans", sans-serif' fill="#1c1c1c" stroke="#1c1c1c" stroke-width="0.15" >20</text>
<text x="1705.5" y="688.0" font-size="29" text-anchor="start" font-family='"DejaVu Sans", "Liberation Sans", sans-serif' fill="#1c1c1c" stroke="#1c1c1c" stroke-width="0.15" >15</text>
<text x="1705.5" y="780.4" font-size="29" text-anchor="start" font-family='"DejaVu Sans", "Liberation Sans", sans-serif' fill="#1c1c1c" stroke="#1c1c1c" stroke-width="0.15" >10</text>
<text x="1705.5" y="872.8" font-size="29" text-anchor="start" font-family='"DejaVu Sans", "Liberation Sans", sans-serif' fill="#1c1c1c" stroke="#1c1c1c" stroke-width="0.15" >5</text>
<rect x="1812.8" y="120.8" width="14.5" height="830.2" fill="url(#jet)"/>
<rect x="1812.8" y="120.8" width="14.5" height="830.2" fill="none" stroke="#444" stroke-opacity="0.45" stroke-width="1"/>
<text x="1834.0" y="133.6" font-size="29" text-anchor="start" font-family='"DejaVu Sans", "Liberation Sans", sans-serif' fill="#1c1c1c" stroke="#1c1c1c" stroke-width="0.15" >45</text>
<text x="1834.0" y="226.0" font-size="29" text-anchor="start" font-family='"DejaVu Sans", "Liberation Sans", sans-serif' fill="#1c1c1c" stroke="#1c1c1c" stroke-width="0.15" >40</text>
<text x="1834.0" y="318.4" font-size="29" text-anchor="start" font-family='"DejaVu Sans", "Liberation Sans", sans-serif' fill="#1c1c1c" stroke="#1c1c1c" stroke-width="0.15" >35</text>
<text x="1834.0" y="410.8" font-size="29" text-anchor="start" font-family='"DejaVu Sans", "Liberation Sans", sans-serif' fill="#1c1c1c" stroke="#1c1c1c" stroke-width="0.15" >30</text>
<text x="1834.0" y="503.2" font-size="29" text-anchor="start" font-family='"DejaVu Sans", "Liberation Sans", sans-serif' fill="#1c1c1c" stroke="#1c1c1c" stroke-width="0.15" >25</text>
<text x="1834.0" y="595.6" font-size="29" text-anchor="start" font-family='"DejaVu Sans", "Liberation Sans", sans-serif' fill="#1c1c1c" stroke="#1c1c1c" stroke-width="0.15" >20</text>
<text x="1834.0" y="688.0" font-size="29" text-anchor="start" font-family='"DejaVu Sans", "Liberation Sans", sans-serif' fill="#1c1c1c" stroke="#1c1c1c" stroke-width="0.15" >15</text>
<text x="1834.0" y="780.4" font-size="29" text-anchor="start" font-family='"DejaVu Sans", "Liberation Sans", sans-serif' fill="#1c1c1c" stroke="#1c1c1c" stroke-width="0.15" >10</text>
<text x="1834.0" y="872.8" font-size="29" text-anchor="start" font-family='"DejaVu Sans", "Liberation Sans", sans-serif' fill="#1c1c1c" stroke="#1c1c1c" stroke-width="0.15" >5</text>
<line x1="1050.0" y1="1617.5" x2="1275.0" y2="1798.5" stroke="#d2d2cc" stroke-width="1.3" />
<line x1="1275.0" y1="1798.5" x2="1593.0" y2="1658.5" stroke="#d2d2cc" stroke-width="1.3" />
<line x1="1050.0" y1="1617.5" x2="1349.0" y2="1496.0" stroke="#d2d2cc" stroke-width="1.3" />
<line x1="1593.0" y1="1658.5" x2="1349.0" y2="1496.0" stroke="#d2d2cc" stroke-width="1.3" />
<line x1="1021.7" y1="1249.9" x2="1038.5" y2="1596.5" stroke="#c4c4c6" stroke-width="1.3" />
<line x1="1188.9" y1="1197.6" x2="1195.5" y2="1531.5" stroke="#c4c4c6" stroke-width="1.3" />
<line x1="1346.8" y1="1142.5" x2="1345.0" y2="1492.5" stroke="#c4c4c6" stroke-width="1.3" />
<line x1="1369.8" y1="1144.5" x2="1367.0" y2="1475.5" stroke="#c4c4c6" stroke-width="1.3" />
<line x1="1492.3" y1="1215.5" x2="1482.8" y2="1556.5" stroke="#c4c4c6" stroke-width="1.3" />
<line x1="1624.5" y1="1294.0" x2="1607.2" y2="1638.5" stroke="#c4c4c6" stroke-width="1.3" />
<line x1="1027.0" y1="1326.0" x2="1344.9" y2="1217.0" stroke="#c4c4c6" stroke-width="1.3" />
<line x1="1369.8" y1="1218.7" x2="1624.5" y2="1368.0" stroke="#c4c4c6" stroke-width="1.3" />
<line x1="1032.8" y1="1462.0" x2="1344.9" y2="1352.0" stroke="#c4c4c6" stroke-width="1.3" />
<line x1="1369.8" y1="1349.0" x2="1615.0" y2="1502.0" stroke="#c4c4c6" stroke-width="1.3" />
<ellipse cx="1319" cy="1630.0" rx="196.5" ry="108.5" fill="#1a1a78"/>
<g><ellipse cx="1312" cy="1624" rx="84" ry="44" fill="url(#base)"/><g mask="url(#mD)"><g><path d="M1250.0,1646.0 L1252.0,1624.0 L1263.0,1599.3 L1270.9,1565.6 L1278.8,1520.7 L1285.5,1464.5 L1291.1,1408.4 L1296.8,1352.3 L1302.4,1314.0 L1309.1,1291.6 L1314.5,1281.0 L1321.5,1275.9 L1325.2,1279.0 L1327.0,1285.0 L1332.7,1307.4 L1337.2,1341.0 L1342.8,1397.2 L1349.5,1453.3 L1357.4,1520.7 L1366.4,1565.6 L1377.6,1599.3 L1390.0,1624.0 L1392.0,1646.0 Z" fill="url(#pkD)"/><path d="M1250.0,1646.0 L1252.0,1624.0 L1263.0,1599.3 L1270.9,1565.6 L1278.8,1520.7 L1285.5,1464.5 L1291.1,1408.4 L1296.8,1352.3 L1302.4,1314.0 L1309.1,1291.6 L1314.5,1281.0 L1321.5,1275.9 L1325.2,1279.0 L1327.0,1285.0 L1332.7,1307.4 L1337.2,1341.0 L1342.8,1397.2 L1349.5,1453.3 L1357.4,1520.7 L1366.4,1565.6 L1377.6,1599.3 L1390.0,1624.0 L1392.0,1646.0 Z" fill="url(#shD)"/></g></g></g>
<text x="1651.0" y="1381.5" font-size="29" text-anchor="middle" font-family='"DejaVu Sans", "Liberation Sans", sans-serif' fill="#1c1c1c" stroke="#1c1c1c" stroke-width="0.15" >40</text>
<text x="1645.0" y="1521.0" font-size="29" text-anchor="middle" font-family='"DejaVu Sans", "Liberation Sans", sans-serif' fill="#1c1c1c" stroke="#1c1c1c" stroke-width="0.15" >20</text>
<text x="1038.0" y="1647.5" font-size="28.5" text-anchor="middle" font-family='"DejaVu Sans", "Liberation Sans", sans-serif' fill="#1c1c1c" stroke="#1c1c1c" stroke-width="0.15" >5</text>
<text x="1148.0" y="1736.5" font-size="28.5" text-anchor="middle" font-family='"DejaVu Sans", "Liberation Sans", sans-serif' fill="#1c1c1c" stroke="#1c1c1c" stroke-width="0.15" >0</text>
<text x="1092.0" y="1764.5" font-family='"DejaVu Sans", "Liberation Sans", sans-serif' fill="#1c1c1c"><tspan font-size="34" font-style="italic" stroke="#1c1c1c" stroke-width="0.5">μ</tspan><tspan font-size="26">m</tspan></text>
<text x="1263.0" y="1833.5" font-size="28.5" text-anchor="middle" font-family='"DejaVu Sans", "Liberation Sans", sans-serif' fill="#1c1c1c" stroke="#1c1c1c" stroke-width="0.15" >-5</text>
<text x="1294.0" y="1833.5" font-size="28.5" text-anchor="middle" font-family='"DejaVu Sans", "Liberation Sans", sans-serif' fill="#1c1c1c" stroke="#1c1c1c" stroke-width="0.15" >5</text>
<text x="1449.0" y="1759.5" font-size="28.5" text-anchor="middle" font-family='"DejaVu Sans", "Liberation Sans", sans-serif' fill="#1c1c1c" stroke="#1c1c1c" stroke-width="0.15" >0</text>
<text x="1447.0" y="1795.5" font-family='"DejaVu Sans", "Liberation Sans", sans-serif' fill="#1c1c1c"><tspan font-size="34" font-style="italic" stroke="#1c1c1c" stroke-width="0.5">μ</tspan><tspan font-size="26">m</tspan></text>
<text x="1603.0" y="1690.5" font-size="28.5" text-anchor="middle" font-family='"DejaVu Sans", "Liberation Sans", sans-serif' fill="#1c1c1c" stroke="#1c1c1c" stroke-width="0.15" >5</text>
<text x="1003.0" y="1881.5" font-size="27" text-anchor="middle" font-family='"DejaVu Sans", "Liberation Sans", sans-serif' fill="#1c1c1c" stroke="#1c1c1c" stroke-width="0.15" >y</text>
<text x="1030.5" y="1862.5" font-size="27" text-anchor="middle" font-family='"DejaVu Sans", "Liberation Sans", sans-serif' fill="#1c1c1c" stroke="#1c1c1c" stroke-width="0.15" >z</text>
<text x="1065.0" y="1886.5" font-size="27" text-anchor="middle" font-family='"DejaVu Sans", "Liberation Sans", sans-serif' fill="#1c1c1c" stroke="#1c1c1c" stroke-width="0.15" >x</text>
<line x1="1030.0" y1="1870.5" x2="1030.0" y2="1892.5" stroke="#7aa8a8" stroke-width="1.3" />
<line x1="1030.0" y1="1892.5" x2="1015.0" y2="1883.5" stroke="#8cc" stroke-width="1.3" />
<line x1="1030.0" y1="1892.5" x2="1050.0" y2="1884.5" stroke="#e8a0b0" stroke-width="1.3" />
<text x="1675.0" y="1489.0" font-size="26.5" text-anchor="start" font-family='"DejaVu Sans", "Liberation Sans", sans-serif' fill="#1c1c1c" stroke="#1c1c1c" stroke-width="0.15" >V/m</text>
<text font-family='"Liberation Serif", serif' fill="#0c0c0c"><tspan x="937.9" y="1073.3" font-size="66.5">(</tspan><tspan x="959.5" y="1074.8" font-size="62">d</tspan><tspan x="991.5" y="1073.3" font-size="66.5">)</tspan></text>
<text x="1655.5" y="1072.8" font-size="64" text-anchor="end" font-family='"Liberation Serif", serif' fill="#0c0c0c" stroke="#0c0c0c" stroke-width="0.2" >D=2μm</text>
<rect x="1684.5" y="1073.2" width="14.5" height="832.3" fill="url(#rl)"/>
<rect x="1684.5" y="1073.2" width="14.5" height="832.3" fill="none" stroke="#444" stroke-opacity="0.45" stroke-width="1"/>
<text x="1705.5" y="1095.2" font-size="29" text-anchor="start" font-family='"DejaVu Sans", "Liberation Sans", sans-serif' fill="#1c1c1c" stroke="#1c1c1c" stroke-width="0.15" >50</text>
<text x="1705.5" y="1177.5" font-size="29" text-anchor="start" font-family='"DejaVu Sans", "Liberation Sans", sans-serif' fill="#1c1c1c" stroke="#1c1c1c" stroke-width="0.15" >45</text>
<text x="1705.5" y="1259.8" font-size="29" text-anchor="start" font-family='"DejaVu Sans", "Liberation Sans", sans-serif' fill="#1c1c1c" stroke="#1c1c1c" stroke-width="0.15" >40</text>
<text x="1705.5" y="1342.1" font-size="29" text-anchor="start" font-family='"DejaVu Sans", "Liberation Sans", sans-serif' fill="#1c1c1c" stroke="#1c1c1c" stroke-width="0.15" >35</text>
<text x="1705.5" y="1424.4" font-size="29" text-anchor="start" font-family='"DejaVu Sans", "Liberation Sans", sans-serif' fill="#1c1c1c" stroke="#1c1c1c" stroke-width="0.15" >30</text>
<text x="1705.5" y="1506.7" font-size="29" text-anchor="start" font-family='"DejaVu Sans", "Liberation Sans", sans-serif' fill="#1c1c1c" stroke="#1c1c1c" stroke-width="0.15" >25</text>
<text x="1705.5" y="1589.0" font-size="29" text-anchor="start" font-family='"DejaVu Sans", "Liberation Sans", sans-serif' fill="#1c1c1c" stroke="#1c1c1c" stroke-width="0.15" >20</text>
<text x="1705.5" y="1671.3" font-size="29" text-anchor="start" font-family='"DejaVu Sans", "Liberation Sans", sans-serif' fill="#1c1c1c" stroke="#1c1c1c" stroke-width="0.15" >15</text>
<text x="1705.5" y="1753.6" font-size="29" text-anchor="start" font-family='"DejaVu Sans", "Liberation Sans", sans-serif' fill="#1c1c1c" stroke="#1c1c1c" stroke-width="0.15" >10</text>
<text x="1705.5" y="1835.9" font-size="29" text-anchor="start" font-family='"DejaVu Sans", "Liberation Sans", sans-serif' fill="#1c1c1c" stroke="#1c1c1c" stroke-width="0.15" >5</text>
<rect x="1812.8" y="1073.2" width="14.5" height="832.3" fill="url(#jet)"/>
<rect x="1812.8" y="1073.2" width="14.5" height="832.3" fill="none" stroke="#444" stroke-opacity="0.45" stroke-width="1"/>
<text x="1834.0" y="1095.2" font-size="29" text-anchor="start" font-family='"DejaVu Sans", "Liberation Sans", sans-serif' fill="#1c1c1c" stroke="#1c1c1c" stroke-width="0.15" >50</text>
<text x="1834.0" y="1177.5" font-size="29" text-anchor="start" font-family='"DejaVu Sans", "Liberation Sans", sans-serif' fill="#1c1c1c" stroke="#1c1c1c" stroke-width="0.15" >45</text>
<text x="1834.0" y="1259.8" font-size="29" text-anchor="start" font-family='"DejaVu Sans", "Liberation Sans", sans-serif' fill="#1c1c1c" stroke="#1c1c1c" stroke-width="0.15" >40</text>
<text x="1834.0" y="1342.1" font-size="29" text-anchor="start" font-family='"DejaVu Sans", "Liberation Sans", sans-serif' fill="#1c1c1c" stroke="#1c1c1c" stroke-width="0.15" >35</text>
<text x="1834.0" y="1424.4" font-size="29" text-anchor="start" font-family='"DejaVu Sans", "Liberation Sans", sans-serif' fill="#1c1c1c" stroke="#1c1c1c" stroke-width="0.15" >30</text>
<text x="1834.0" y="1506.7" font-size="29" text-anchor="start" font-family='"DejaVu Sans", "Liberation Sans", sans-serif' fill="#1c1c1c" stroke="#1c1c1c" stroke-width="0.15" >25</text>
<text x="1834.0" y="1589.0" font-size="29" text-anchor="start" font-family='"DejaVu Sans", "Liberation Sans", sans-serif' fill="#1c1c1c" stroke="#1c1c1c" stroke-width="0.15" >20</text>
<text x="1834.0" y="1671.3" font-size="29" text-anchor="start" font-family='"DejaVu Sans", "Liberation Sans", sans-serif' fill="#1c1c1c" stroke="#1c1c1c" stroke-width="0.15" >15</text>
<text x="1834.0" y="1753.6" font-size="29" text-anchor="start" font-family='"DejaVu Sans", "Liberation Sans", sans-serif' fill="#1c1c1c" stroke="#1c1c1c" stroke-width="0.15" >10</text>
<text x="1834.0" y="1835.9" font-size="29" text-anchor="start" font-family='"DejaVu Sans", "Liberation Sans", sans-serif' fill="#1c1c1c" stroke="#1c1c1c" stroke-width="0.15" >5</text>
</g>
<g>
<circle cx="483.7" cy="504.0" r="33.3" fill="none" stroke="#101010" stroke-opacity="0.75" stroke-width="1.15"/>
<circle cx="483.7" cy="1456.0" r="65.8" fill="none" stroke="#101010" stroke-opacity="0.75" stroke-width="1.15"/>
</g>
</svg>
</body></html>
